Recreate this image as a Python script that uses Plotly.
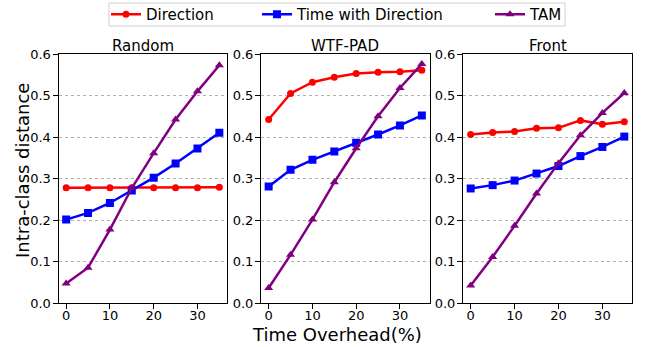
import plotly.graph_objects as go

overhead = [0, 5, 10, 15, 20, 25, 30, 35]
panel_titles = ["Random", "WTF-PAD", "Front"]
series_names = ["Direction", "Time with Direction", "TAM"]

random_direction = [0.278, 0.278, 0.278, 0.278, 0.278, 0.278, 0.278, 0.279]
random_time = [0.201, 0.217, 0.241, 0.271, 0.302, 0.336, 0.372, 0.410]
random_tam = [0.047, 0.085, 0.177, 0.277, 0.361, 0.442, 0.510, 0.573]

wtf_direction = [0.442, 0.505, 0.532, 0.544, 0.553, 0.556, 0.557, 0.561]
wtf_time = [0.281, 0.321, 0.345, 0.365, 0.386, 0.406, 0.428, 0.452]
wtf_tam = [0.036, 0.116, 0.201, 0.291, 0.373, 0.450, 0.518, 0.576]

front_direction = [0.406, 0.411, 0.413, 0.421, 0.422, 0.440, 0.431, 0.437]
front_time = [0.276, 0.284, 0.295, 0.312, 0.330, 0.354, 0.376, 0.401]
front_tam = [0.042, 0.111, 0.186, 0.264, 0.337, 0.404, 0.458, 0.506]

y_ticks = [0.0, 0.1, 0.2, 0.3, 0.4, 0.5, 0.6]
x_ticks = [0, 10, 20, 30]

panels = [
    (random_direction, random_time, random_tam),
    (wtf_direction, wtf_time, wtf_tam),
    (front_direction, front_time, front_tam),
]

colors = ["#ff0000", "#0000ff", "#800080"]
symbols = ["circle", "square", "triangle-up"]
msizes = [7, 8, 8]
legend_ids = ["legend", "legend2", "legend3"]
legend_x = [106, 257, 490]

W, H = 647, 347
x_domains = [(58.5, 227), (261, 429.5), (463, 632)]
y_top, y_bot = 54, 303
font = "DejaVu Sans"

fig = go.Figure()
for i, vals in enumerate(panels):
    xa = "x" if i == 0 else f"x{i+1}"
    ya = "y" if i == 0 else f"y{i+1}"
    for j, v in enumerate(vals):
        fig.add_trace(go.Scatter(
            x=overhead, y=v, mode="lines+markers", name=series_names[j],
            line=dict(color=colors[j], width=2.5),
            marker=dict(symbol=symbols[j], size=msizes[j], color=colors[j]),
            xaxis=xa, yaxis=ya, showlegend=(i == 0), legend=legend_ids[j],
        ))

layout = dict(
    width=W, height=H,
    margin=dict(l=0, r=0, t=0, b=0, autoexpand=False),
    paper_bgcolor="white", plot_bgcolor="white",
    font=dict(family=font, color="black", size=13),
    annotations=[],
    shapes=[dict(
        type="rect", xref="paper", yref="paper",
        x0=109 / W, x1=565 / W, y0=1 - 26 / H, y1=1 - 3 / H,
        line=dict(color="#d0d0d0", width=1), fillcolor="rgba(255,255,255,0)",
    )],
)
for k, lid in enumerate(legend_ids):
    layout[lid] = dict(
        orientation="h", x=legend_x[k] / W, xanchor="left", y=1 - 14.5 / H, yanchor="middle",
        borderwidth=0, bgcolor="rgba(255,255,255,0)", font=dict(size=15, family=font),
        itemwidth=30,
    )
for i, (x0, x1) in enumerate(x_domains):
    sfx = "" if i == 0 else str(i + 1)
    layout["xaxis" + sfx] = dict(
        domain=[x0 / W, x1 / W], range=[-1.75, 36.75], anchor="y" + sfx,
        tickvals=x_ticks, ticks="outside", ticklen=5, tickcolor="black",
        showline=True, linecolor="black", linewidth=1, mirror=True,
        showgrid=False, zeroline=False, tickfont=dict(size=13),
        ticklabelstandoff=-5,
    )
    layout["yaxis" + sfx] = dict(
        domain=[1 - y_bot / H, 1 - y_top / H], range=[0, 0.6], anchor="x" + sfx,
        tickvals=y_ticks, tickformat=".1f", ticks="outside", ticklen=5, tickcolor="black",
        showline=True, linecolor="black", linewidth=1, mirror=True,
        showgrid=True, gridcolor="#b0b0b0", griddash="dot", gridwidth=0.8,
        zeroline=False, tickfont=dict(size=13),
        ticklabelstandoff=-1,
    )
    layout["annotations"].append(dict(
        text=panel_titles[i], x=(x0 + x1) / 2 / W, y=1 - 46 / H, xref="paper", yref="paper",
        showarrow=False, font=dict(size=15, family=font), xanchor="center", yanchor="middle",
    ))

layout["annotations"].append(dict(
    text="Intra-class distance", x=22 / W, y=1 - 171 / H, xref="paper", yref="paper",
    showarrow=False, textangle=-90, font=dict(size=18, family=font),
    xanchor="center", yanchor="middle",
))
layout["annotations"].append(dict(
    text="Time Overhead(%)", x=337 / W, y=1 - 334 / H, xref="paper", yref="paper",
    showarrow=False, font=dict(size=18, family=font), xanchor="center", yanchor="middle",
))

fig.update_layout(**layout)
fig.write_html(
    "out.html",
    config={"displayModeBar": False},
    post_script="document.body.style.margin='0';document.body.style.overflow='hidden';",
)
